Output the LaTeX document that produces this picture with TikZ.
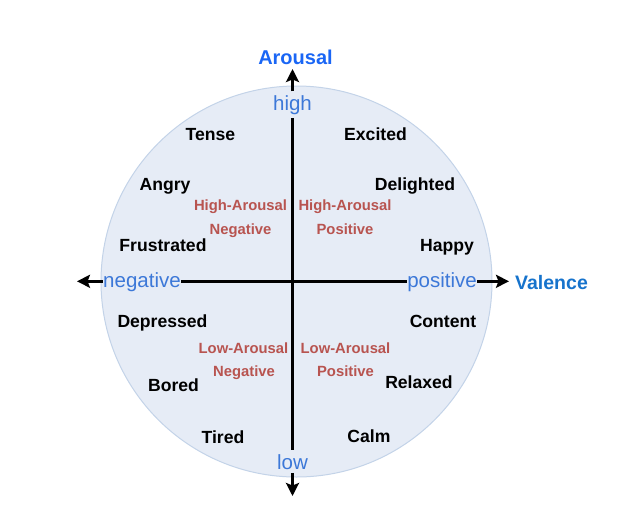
\documentclass[tikz,border=0pt]{standalone}
\usepackage{fontspec}
\setmainfont{Liberation Sans}
\usetikzlibrary{arrows.meta}
\definecolor{circfill}{HTML}{E6ECF6}
\definecolor{circline}{HTML}{C3D3E8}
\definecolor{axislbl}{HTML}{3C78D8}
\definecolor{arousalc}{HTML}{1A66F5}
\definecolor{valencec}{HTML}{1673CC}
\definecolor{quadc}{HTML}{B85450}
\tikzset{
  emo/.style={font=\fontsize{17.6}{20}\selectfont\bfseries, text=black, anchor=base, inner sep=0pt},
  quad/.style={font=\fontsize{14.8}{18}\selectfont\bfseries, text=quadc, anchor=base, inner sep=0pt},
  pole/.style={font=\fontsize{20.5}{24}\selectfont, text=axislbl, fill=circfill, anchor=base},
  vpole/.style={pole, inner xsep=1pt, inner ysep=3.5pt},
  hpole/.style={pole, inner xsep=0.5pt, inner ysep=1pt},
  title/.style={font=\fontsize{20}{24}\selectfont\bfseries, anchor=base, inner sep=0pt},
  axis/.style={line width=3pt, black},
  tip/.style={-{Stealth[length=13pt,width=13pt,inset=2.5pt]}},
}
\begin{document}
\begin{tikzpicture}[x=1pt,y=-1pt]
\useasboundingbox (0,0) rectangle (620,514);
% circle
\node[draw=circline, fill=circfill, line width=1pt, circle, minimum size=391pt, inner sep=0pt] (circ) at (296.5,281.5) {};
% pole labels
\node[vpole] (high) at (292.5,110) {high};
\node[vpole] (low) at (292.5,469) {low};
\node[hpole] (neg) at (142,287.3) {negative};
\node[hpole] (pos) at (442,287.3) {positive};
% free ends
\coordinate (ttip) at (292.5,69);
\coordinate (btip) at (292.5,496);
\coordinate (ltip) at (77,281.3);
\coordinate (rtip) at (509,281.3);
% axes
\draw[axis] (high.south) -- (low.north);
\draw[axis] (neg.east |- 0,281.3) -- (pos.west |- 0,281.3);
\draw[axis,tip] (high.north) -- (ttip);
\draw[axis,tip] (low.south) -- (btip);
\draw[axis,tip] (neg.west |- 0,281.3) -- (ltip);
\draw[axis,tip] (pos.east |- 0,281.3) -- (rtip);
% titles
\node[title, text=arousalc] (arousal) at (295.5,64) {Arousal};
\node[title, text=valencec, font=\fontsize{19.5}{24}\selectfont\bfseries, anchor=base west] (valence) at (515,289) {Valence};
% emotions
\node[emo] (tense) at (210.5,140) {Tense};
\node[emo] (excited) at (375.5,140) {Excited};
\node[emo] (angry) at (165,190.7) {Angry};
\node[emo] (delighted) at (415,190.7) {Delighted};
\node[emo] (frustrated) at (163,251.7) {Frustrated};
\node[emo] (happy) at (447,251) {Happy};
\node[emo] (depressed) at (162.5,327.7) {Depressed};
\node[emo] (content) at (443,327.7) {Content};
\node[emo] (bored) at (173.5,391) {Bored};
\node[emo] (relaxed) at (419,388.5) {Relaxed};
\node[emo] (tired) at (223,443.3) {Tired};
\node[emo] (calm) at (369,442.8) {Calm};
% quadrant labels
\node[quad] (hanA) at (240.5,210.7) {High-Arousal};
\node[quad] (hanB) at (240.5,234) {Negative};
\node[quad] (hapA) at (345,210.7) {High-Arousal};
\node[quad] (hapB) at (345,234) {Positive};
\node[quad] (lanA) at (243.5,353.3) {Low-Arousal};
\node[quad] (lanB) at (244,376.7) {Negative};
\node[quad] (lapA) at (345.5,353.3) {Low-Arousal};
\node[quad] (lapB) at (345.5,376.7) {Positive};
\end{tikzpicture}
\end{document}
